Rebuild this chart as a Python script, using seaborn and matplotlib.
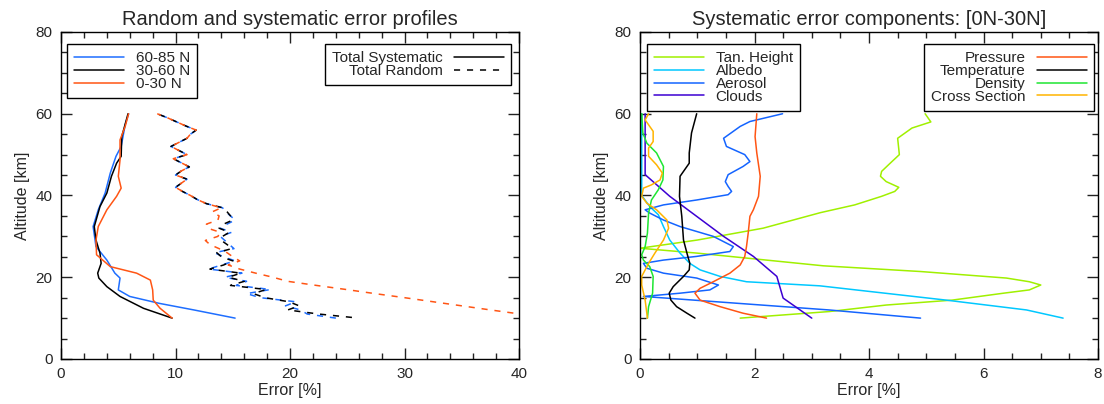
import numpy as np
import pandas as pd
import seaborn as sns
import matplotlib.pyplot as plt
from matplotlib.lines import Line2D
from matplotlib.ticker import MultipleLocator

sns.set_style('ticks')
plt.rcParams['font.family'] = ['Liberation Sans', 'DejaVu Sans']

# ---- left panel: total systematic (solid) and total random (dashed) ----
lat_labels = ['60-85 N', '30-60 N', '0-30 N']
lat_colors = ['#1e6eff', '#000000', '#ff5514']

sys_n_alt = [10, 12, 13.6, 15.3, 16.9, 19.8, 21, 24.2, 27.5, 32.4, 36.5, 40.6, 45.5, 49.6, 52, 57.3, 60]
sys_n_val = [15.2, 11.6, 8.6, 6.0, 5.0, 5.15, 4.7, 4.0, 3.05, 2.8, 3.25, 3.85, 4.3, 4.8, 5.25, 5.6, 5.9]

sys_m_alt = [10, 12.4, 15.3, 17.7, 19.8, 21, 23.4, 25.9, 29.1, 32.4, 37.3, 40.6, 44.7, 47.9, 49.6, 54.4, 60]
sys_m_val = [9.7, 7.2, 5.15, 4.0, 3.3, 3.2, 3.5, 3.4, 3.05, 2.9, 3.4, 4.0, 4.4, 4.85, 5.25, 5.3, 5.85]

sys_s_alt = [10, 12.4, 14.4, 16.9, 19.3, 21, 22.6, 25.5, 29.1, 32.4, 36.5, 39.8, 41.8, 44.7, 48.7, 53.6, 56.9, 60]
sys_s_val = [9.7, 8.65, 8.05, 8.0, 7.8, 6.6, 4.3, 3.1, 3.05, 3.25, 4.0, 4.85, 5.25, 5.0, 5.15, 5.15, 5.6, 5.9]

rand_alt = list(range(10, 61))
rand_n_val = [24.0, 21.5, 20.9, 19.6, 20.5, 17.4, 16.2, 18.3, 15.3, 16.2,
              14.3, 15.8, 12.9, 14.0, 15.2, 14.2, 13.4, 15.1, 14.7, 14.3,
              13.9, 14.9, 13.9, 14.5, 15.2, 14.8, 14.4, 14.1, 12.7, 11.9,
              11.3, 10.6, 10.0, 10.5, 11.0, 10.0, 10.5, 11.2, 10.5, 9.8,
              11.0, 10.3, 9.6, 10.3, 11.0, 11.3, 11.8, 10.9, 10.1, 9.3, 8.4]
rand_m_val = [26.0, 22.5, 19.8, 20.8, 19.9, 17.8, 16.8, 17.9, 14.8, 16.0,
              14.6, 15.7, 13.0, 14.2, 15.0, 14.0, 13.6, 14.9, 14.5, 14.0,
              14.1, 14.7, 13.8, 14.2, 15.0, 14.8, 14.5, 14.1, 12.7, 11.9,
              11.3, 10.6, 10.0, 10.5, 11.0, 10.0, 10.5, 11.2, 10.5, 9.8,
              11.0, 10.3, 9.6, 10.3, 11.0, 11.3, 11.8, 10.9, 10.1, 9.3, 8.4]
rand_s_val = [42.6, 40.1, 37.5, 35.0, 32.5, 30.0, 27.4, 24.9, 22.3, 19.8,
              18.5, 17.0, 15.6, 14.6, 15.6, 15.0, 14.5, 13.8, 13.0, 12.6,
              13.7, 13.9, 12.8, 12.7, 13.7, 13.8, 13.2, 14.0, 12.7, 11.9,
              11.3, 10.6, 10.0, 10.5, 11.0, 10.0, 10.5, 11.2, 10.5, 9.8,
              11.0, 10.3, 9.6, 10.3, 11.0, 11.3, 11.8, 10.9, 10.1, 9.3, 8.4]

# ---- right panel: systematic components, 0N-30N ----
comp_left = ['Tan. Height', 'Albedo', 'Aerosol', 'Clouds']
comp_right = ['Pressure', 'Temperature', 'Density', 'Cross Section']
comp_colors = {'Tan. Height': '#a0f000', 'Albedo': '#00c8ff', 'Aerosol': '#1464ff',
               'Clouds': '#3c00d2', 'Pressure': '#ff5514', 'Temperature': '#000000',
               'Density': '#1ee632', 'Cross Section': '#ffb400'}

tan_alt = [10, 11.6, 13.2, 14.4, 16.1, 16.9, 18.1, 18.9, 19.8, 21.4, 22.8, 25.9, 27.1, 29.1, 32,
           35.8, 37.7, 39.8, 41, 42, 43.4, 44.7, 45.9, 47.9, 50, 54, 56.5, 58, 60]
tan_val = [1.75, 3.3, 4.3, 5.45, 6.35, 6.8, 7.0, 6.8, 6.4, 4.9, 3.2, 1.0, 0.0, 1.0, 2.15,
           3.15, 3.75, 4.22, 4.45, 4.52, 4.3, 4.2, 4.22, 4.37, 4.53, 4.5, 4.75, 5.08, 4.98]

alb_alt = [10, 12, 14.4, 17.9, 18.9, 20.2, 21.8, 23.4, 25.9, 29.1, 32.4, 35.3, 37.3, 40, 60]
alb_val = [7.39, 6.75, 5.35, 3.14, 1.86, 1.40, 1.05, 0.87, 0.70, 0.52, 0.41, 0.32, 0.17, 0.03, 0.03]

aer_alt = [10, 12, 15.3, 16.1, 16.9, 18.1, 19.8, 21, 22.2, 23.4, 24.2, 25.1, 26.3, 27.5, 30, 32.4, 34,
           35.7, 36.5, 37.7, 38.9, 40.2, 41, 42.2, 43.4, 45.1, 47.1, 48.3, 50, 52, 54, 56.9, 58.1, 60]
aer_val = [4.9, 3.3, 0.06, 0.7, 1.22, 1.37, 0.99, 0.41, 0.12, 0.06, 0.41, 0.99, 1.57, 1.63, 1.28, 0.70, 0.41,
           0.17, 0.09, 0.41, 0.99, 1.54, 1.60, 1.54, 1.49, 1.54, 1.80, 1.92, 1.83, 1.51, 1.46, 1.75, 1.92, 2.49]

cld_alt = [10, 14.9, 20.2, 25.1, 30, 34.9, 39.8, 45.1, 60]
cld_val = [3.0, 2.5, 2.39, 1.98, 1.46, 0.99, 0.52, 0.09, 0.09]

prs_alt = [10, 11.2, 12.8, 14.4, 16.1, 17.3, 18.9, 21, 23, 25.1, 27.5, 30.8, 34.9, 36.5, 39.8, 44.7, 50.4, 54.4, 60]
prs_val = [2.21, 1.80, 1.40, 1.05, 0.96, 1.05, 1.28, 1.57, 1.75, 1.83, 1.86, 1.89, 1.92, 1.98, 2.07, 2.10, 2.04, 2.01, 2.04]

tmp_alt = [10, 11.2, 12.8, 14.4, 16.1, 17.7, 20.2, 21.8, 23.4, 25.9, 29.1, 34.9, 39.8, 44.7, 47.9, 50.4, 55.3, 60]
tmp_val = [0.96, 0.82, 0.64, 0.54, 0.51, 0.58, 0.76, 0.86, 0.87, 0.82, 0.76, 0.73, 0.69, 0.70, 0.86, 0.86, 0.90, 0.99]

den_alt = [10, 12.8, 16.1, 20.2, 22.6, 24.2, 25.5, 27.5, 30.8, 35.7, 38.9, 41.4, 43.8, 47.1, 50.4, 52.8, 55.3, 60]
den_val = [0.13, 0.15, 0.22, 0.23, 0.17, 0.06, 0.03, 0.09, 0.13, 0.15, 0.20, 0.32, 0.40, 0.41, 0.29, 0.12, 0.05, 0.03]

xs_alt = [10, 14.4, 18.1, 20.2, 23.4, 25.9, 29.1, 32, 34, 36.5, 38.1, 39.8, 41.8, 42.6, 43.8, 45.5,
          47.5, 49.6, 51.6, 53.2, 55.7, 58.5, 60]
xs_val = [0.13, 0.09, 0.03, 0.03, 0.15, 0.26, 0.41, 0.50, 0.47, 0.29, 0.12, 0.03, 0.06, 0.20, 0.35, 0.39,
          0.29, 0.15, 0.15, 0.23, 0.23, 0.09, 0.15]

components = {'Tan. Height': (tan_alt, tan_val), 'Albedo': (alb_alt, alb_val),
              'Aerosol': (aer_alt, aer_val), 'Clouds': (cld_alt, cld_val),
              'Pressure': (prs_alt, prs_val), 'Temperature': (tmp_alt, tmp_val),
              'Density': (den_alt, den_val), 'Cross Section': (xs_alt, xs_val)}

fig = plt.figure(figsize=(11.04, 4.04), dpi=100)
ax1 = fig.add_axes([0.0553, 0.1114, 0.4149, 0.8094])
ax2 = fig.add_axes([0.5797, 0.1114, 0.4149, 0.8094])

lw = 1.1
fs = 11
dash = (4.0, 4.5)

# left panel lines
sys_sets = [(sys_n_alt, sys_n_val), (sys_m_alt, sys_m_val), (sys_s_alt, sys_s_val)]
rand_sets = [rand_n_val, rand_m_val, rand_s_val]
offsets = [0, 4, 2]
for (alt, val), rv, col, off in zip(sys_sets, rand_sets, lat_colors, offsets):
    sns.lineplot(x=val, y=alt, sort=False, estimator=None, color=col, lw=lw, ax=ax1)
    sns.lineplot(x=rv, y=rand_alt, sort=False, estimator=None, color=col, lw=lw,
                 linestyle=(off, dash), ax=ax1)

# right panel lines
for name in comp_left + comp_right:
    alt, val = components[name]
    sns.lineplot(x=val, y=alt, sort=False, estimator=None, color=comp_colors[name], lw=lw, ax=ax2)

def style_axis(ax, xmax, xmaj, xmin, title):
    ax.set_xlim(0, xmax)
    ax.set_ylim(0, 80)
    ax.xaxis.set_major_locator(MultipleLocator(xmaj))
    ax.xaxis.set_minor_locator(MultipleLocator(xmin))
    ax.yaxis.set_major_locator(MultipleLocator(20))
    ax.yaxis.set_minor_locator(MultipleLocator(5))
    ax.tick_params(which='both', direction='in', top=True, right=True, labelsize=fs, color='#222222')
    ax.tick_params(which='major', length=8, width=1, pad=6)
    ax.tick_params(which='minor', length=4, width=1)
    for s in ax.spines.values():
        s.set_linewidth(1.0)
        s.set_color('black')
    ax.set_xlabel('Error [%]', fontsize=11.5, labelpad=1)
    ax.set_ylabel('Altitude [km]', fontsize=11.5, labelpad=4)
    ax.set_title(title, fontsize=14.5, pad=5)

style_axis(ax1, 40, 10, 2, 'Random and systematic error profiles')
style_axis(ax2, 8, 2, 0.5, 'Systematic error components: [0N-30N]')

leg_kw = dict(fontsize=fs, frameon=True, fancybox=False, edgecolor='black', framealpha=1,
              handlelength=3.3, handletextpad=0.75, labelspacing=-0.08, borderpad=0.45,
              borderaxespad=0)

h_lat = [Line2D([], [], color=c, lw=lw) for c in lat_colors]
leg1 = ax1.legend(h_lat, lat_labels, loc='upper left', bbox_to_anchor=(0.013, 0.962), **leg_kw)
leg1.get_frame().set_linewidth(1.0)
ax1.add_artist(leg1)
h_type = [Line2D([], [], color='black', lw=lw), Line2D([], [], color='black', lw=lw, linestyle=(0, dash))]
leg2 = ax1.legend(h_type, ['Total Systematic', 'Total Random'], loc='upper right',
                  bbox_to_anchor=(0.983, 0.962), markerfirst=False, **leg_kw)
leg2.get_frame().set_linewidth(1.0)

h_l = [Line2D([], [], color=comp_colors[n], lw=lw) for n in comp_left]
leg3 = ax2.legend(h_l, comp_left, loc='upper left', bbox_to_anchor=(0.015, 0.962), **leg_kw)
leg3.get_frame().set_linewidth(1.0)
ax2.add_artist(leg3)
h_r = [Line2D([], [], color=comp_colors[n], lw=lw) for n in comp_right]
leg4 = ax2.legend(h_r, comp_right, loc='upper right', bbox_to_anchor=(0.992, 0.962),
                  markerfirst=False, **leg_kw)
leg4.get_frame().set_linewidth(1.0)

fig.savefig('out.png', dpi=100)
